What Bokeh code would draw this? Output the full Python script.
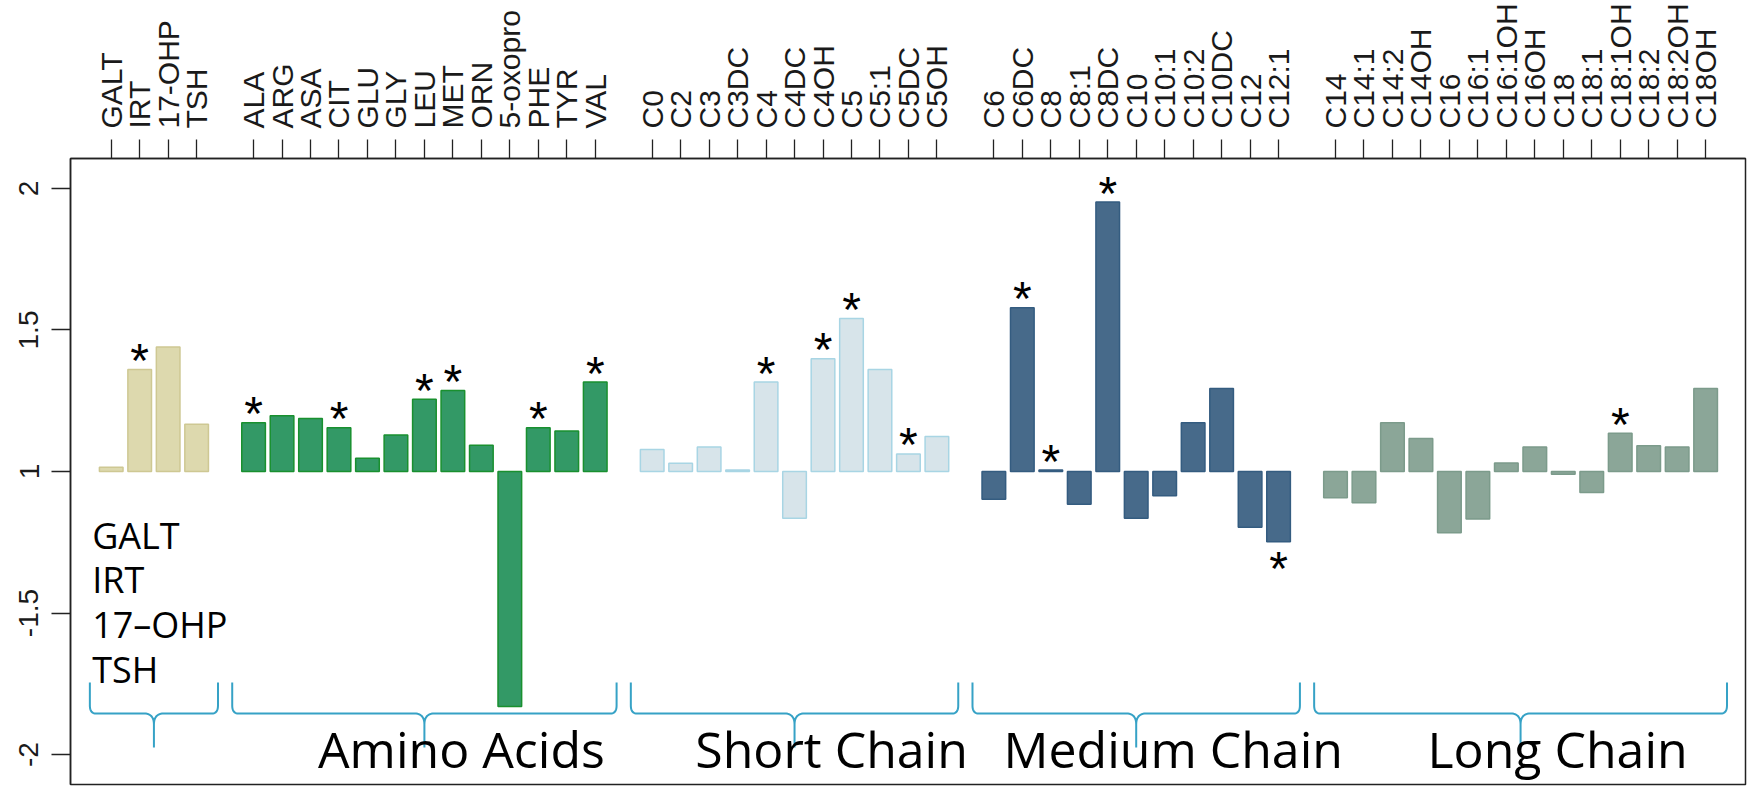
import numpy as np
from bokeh.plotting import figure
from bokeh.models import FixedTicker, Range1d, ColumnDataSource, Label
from bokeh.core.properties import value
from bokeh.embed import file_html
from bokeh.resources import INLINE

# ---------------- data ----------------
group_titles = ["", "Amino Acids", "Short Chain", "Medium Chain", "Long Chain"]

first_names = ["GALT", "IRT", "17-OHP", "TSH"]
first_vals = [1.015, 1.36, 1.44, 1.167]
first_sig = [0, 1, 0, 0]

amino_names = ["ALA", "ARG", "ASA", "CIT", "GLU", "GLY", "LEU", "MET", "ORN",
               "5-oxopro", "PHE", "TYR", "VAL"]
amino_vals = [1.172, 1.197, 1.187, 1.155, 1.047, 1.129, 1.255, 1.286, 1.093,
              -1.83, 1.155, 1.143, 1.316]
amino_sig = [1, 0, 0, 1, 0, 0, 1, 1, 0, 0, 1, 0, 1]

short_names = ["C0", "C2", "C3", "C3DC", "C4", "C4DC", "C4OH", "C5", "C5:1",
               "C5DC", "C5OH"]
short_vals = [1.078, 1.029, 1.087, 1.005, 1.316, -1.165, 1.398, 1.541, 1.36,
              1.062, 1.124]
short_sig = [0, 0, 0, 0, 1, 0, 1, 1, 0, 1, 0]

medium_names = ["C6", "C6DC", "C8", "C8:1", "C8DC", "C10", "C10:1", "C10:2",
                "C10DC", "C12", "C12:1"]
medium_vals = [-1.098, 1.579, 1.005, -1.116, 1.952, -1.165, -1.086, 1.172,
               1.293, -1.197, -1.248]
medium_sig = [0, 1, 1, 0, 1, 0, 0, 0, 0, 0, 1]

long_names = ["C14", "C14:1", "C14:2", "C14OH", "C16", "C16:1", "C16:1OH",
              "C16OH", "C18", "C18:1", "C18:1OH", "C18:2", "C18:2OH", "C18OH"]
long_vals = [-1.093, -1.110, 1.172, 1.117, -1.216, -1.168, 1.030, 1.087,
             -1.01, -1.074, 1.135, 1.091, 1.087, 1.293]
long_sig = [0, 0, 0, 0, 0, 0, 0, 0, 0, 0, 1, 0, 0, 0]

y_tick_vals = [0, 0.5, 1, 1.5, 2]
y_tick_labels = ["-2", "-1.5", "1", "1.5", "2"]

fills = ["#DDD9AE", "#339966", "#D7E4EA", "#476A8A", "#8BA698"]
lines = ["#CEC893", "#19902F", "#A8D5E4", "#345C80", "#7C9B8B"]

all_names = [first_names, amino_names, short_names, medium_names, long_names]
all_vals = [first_vals, amino_vals, short_vals, medium_vals, long_vals]
all_sig = [first_sig, amino_sig, short_sig, medium_sig, long_sig]


def to_plot(v):
    # fold changes below 1 are shown as negative folds, drawn at v + 2
    return v if v >= 0 else v + 2


# ---------------- layout ----------------
W, H = 1750, 788
p = figure(width=W, height=H, output_backend="svg", toolbar_location=None,
           x_axis_location="above",
           x_range=Range1d(-1.43, 57.40), y_range=Range1d(-0.106, 2.106),
           min_border_left=70, min_border_right=5, min_border_top=158,
           min_border_bottom=4)
p.background_fill_color = "white"
p.border_fill_color = "white"
p.grid.visible = False
p.outline_line_color = "#222222"
p.outline_line_width = 1.5

pos_all, name_all = [], []
xs, tops, bottoms, fc, lc = [], [], [], [], []
star_x, star_y, star_off = [], [], []
group_ranges = []
idx = 0
for g, (names, vals, sig) in enumerate(zip(all_names, all_vals, all_sig)):
    start = idx
    for n, v, s in zip(names, vals, sig):
        pv = to_plot(v)
        pos_all.append(idx)
        name_all.append(n)
        xs.append(idx)
        tops.append(max(pv, 1))
        bottoms.append(min(pv, 1))
        fc.append(fills[g])
        lc.append(lines[g])
        if s:
            star_x.append(idx)
            star_y.append(pv)
            star_off.append(-9 if pv >= 1 else 27)
        idx += 1
    group_ranges.append((start, idx - 1))
    idx += 1  # blank slot between groups

src = ColumnDataSource(dict(x=xs, top=tops, bottom=bottoms, fc=fc, lc=lc))
p.vbar(x="x", top="top", bottom="bottom", width=0.83, source=src,
       fill_color="fc", line_color="lc", line_width=1.5)

p.text(x=star_x, y=star_y, text=["*"] * len(star_x), y_offset=star_off,
       text_font=value("Liberation Sans"), text_font_size="48px",
       text_align="center", text_baseline="alphabetic", text_color="black")

# axes
xa = p.xaxis[0]
xa.ticker = FixedTicker(ticks=pos_all)
xa.major_label_overrides = {k: v for k, v in zip(pos_all, name_all)}
xa.major_label_orientation = "vertical"
xa.major_label_text_font = "Liberation Sans"
xa.major_label_text_font_size = "30px"
xa.major_label_text_color = "#1a1a1a"
xa.major_label_standoff = 11
xa.major_tick_out = 19
xa.major_tick_in = 0
xa.minor_tick_line_color = None
xa.axis_line_color = "#222222"
xa.axis_line_width = 1.5
xa.major_tick_line_color = "#222222"
xa.major_tick_line_width = 1.3

ya = p.yaxis[0]
ya.ticker = FixedTicker(ticks=y_tick_vals)
ya.major_label_overrides = {k: v for k, v in zip(y_tick_vals, y_tick_labels)}
ya.major_label_orientation = "vertical"
ya.major_label_text_font = "Liberation Sans"
ya.major_label_text_font_size = "28px"
ya.major_label_text_color = "#1a1a1a"
ya.major_label_standoff = 13
ya.major_tick_out = 19
ya.major_tick_in = 0
ya.minor_tick_line_color = None
ya.axis_line_color = "#222222"
ya.axis_line_width = 1.5
ya.major_tick_line_color = "#222222"
ya.major_tick_line_width = 1.3

# braces
PX = 1 / 28.47   # data units per pixel (x)
PY = 1 / 283.0   # data units per pixel (y)
y_top, y_bar, y_bot = 0.254, 0.145, 0.025


def qbez(p0, c, p1, n=12):
    t = np.linspace(0, 1, n)
    bx = (1 - t) ** 2 * p0[0] + 2 * (1 - t) * t * c[0] + t ** 2 * p1[0]
    by = (1 - t) ** 2 * p0[1] + 2 * (1 - t) * t * c[1] + t ** 2 * p1[1]
    return list(bx), list(by)


def brace(x0, x1, xc):
    rx, ry = 6 * PX, 8 * PY
    cx, cy = 10 * PX, 11 * PY
    X, Y = [x0], [y_top]
    bx, by = qbez((x0, y_bar + ry), (x0, y_bar), (x0 + rx, y_bar))
    X += bx; Y += by
    bx, by = qbez((xc - cx, y_bar), (xc, y_bar), (xc, y_bar - cy))
    X += bx; Y += by
    X += [xc, xc]; Y += [y_bot, y_bar - cy]
    bx, by = qbez((xc, y_bar - cy), (xc, y_bar), (xc + cx, y_bar))
    X += bx; Y += by
    bx, by = qbez((x1 - rx, y_bar), (x1, y_bar), (x1, y_bar + ry))
    X += bx; Y += by
    X += [x1]; Y += [y_top]
    return X, Y


bxs, bys = [], []
for (a, b), title in zip(group_ranges, group_titles):
    X, Y = brace(a - 0.75, b + 0.75, (a + b) / 2)
    bxs.append(X)
    bys.append(Y)
    if title:
        p.add_layout(Label(x=(a + b) / 2 + 1.3, y=0.02, text=title,
                           text_font="Open Sans", text_font_size="50px",
                           text_align="center", text_baseline="alphabetic",
                           text_color="black"))

p.multi_line(xs=bxs, ys=bys, line_color="#36A2C6", line_width=2)

ann = [n.replace("-", "\u2013") for n in first_names]
p.text(x=[group_ranges[0][0] - 0.67] * len(ann),
       y=[0.775 - 0.158 * i for i in range(len(ann))], text=ann,
       text_font=value("Open Sans"), text_font_size="36px",
       text_align="left", text_baseline="alphabetic", text_color="black")

open("out.html", "w").write(file_html(p, INLINE))
